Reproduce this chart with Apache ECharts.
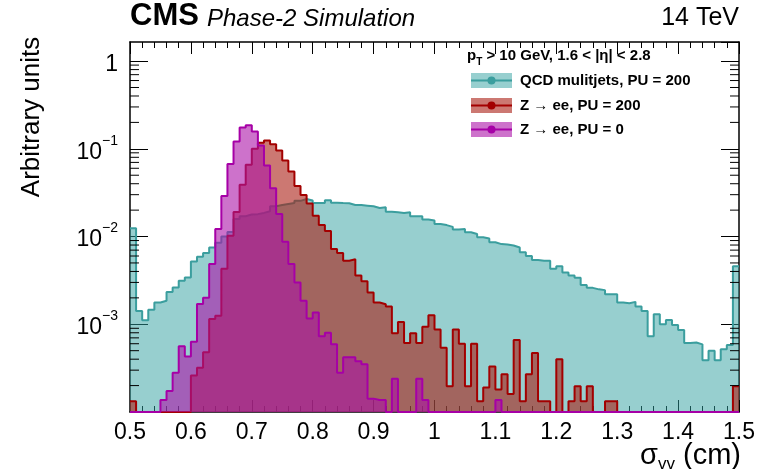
<!DOCTYPE html>
<html><head><meta charset="utf-8">
<script src="https://cdn.jsdelivr.net/npm/echarts@6/dist/echarts.min.js"></script>
<style>html,body{margin:0;padding:0;background:#fff}#c{width:768px;height:469px}</style>
</head><body><div id="c"></div>
<script>
// ---- data ----
const binStart = 0.5, binWidth = 0.01;
const xTickValues = [0.5,0.6,0.7,0.8,0.9,1.0,1.1,1.2,1.3,1.4,1.5];
const yMin = 1e-4, yMax = 1.65;
const seriesNames = ['QCD mulitjets, PU = 200', 'Z \u2192 ee, PU = 200', 'Z \u2192 ee, PU = 0'];

const qcdPU200 = [
 0.0124,0.00142,0.00111,0.00146,0.00177,0.00185,0.00234,0.00263,0.00313,0.00341,
 0.0052,0.0059,0.0065,0.0075,0.0085,0.0100,0.0113,0.0158,0.0170,0.0178,
 0.0180,0.0186,0.0194,0.0221,0.0229,0.0235,0.0241,0.0255,0.0268,0.0257,
 0.0241,0.0241,0.0259,0.0243,0.0241,0.0240,0.0229,0.0229,0.0225,0.0221,
 0.0212,0.0216,0.0192,0.0189,0.0186,0.0189,0.0170,0.0170,0.0156,0.0152,
 0.0139,0.0135,0.0129,0.0120,0.0122,0.0112,0.0107,0.0098,0.0095,0.0086,
 0.0082,0.0081,0.0079,0.0075,0.0066,0.0060,0.0054,0.0053,0.0053,0.0043,
 0.0046,0.0039,0.0036,0.0034,0.0028,0.0026,0.0025,0.00245,0.0022,0.0022,
 0.00177,0.00174,0.0018,0.00159,0.00142,0.00073,0.0013,0.0010,0.00112,0.00098,
 0.00086,0.00061,0.00062,0.00059,0.00039,0.00050,0.00039,0.00052,0.00058,0.0046
];
const zeePU200 = [
 0.000133,0,0,0,0,0,0,0,0,0,
 0.00026,0.00032,0.00048,0.00115,0.00125,0.0043,0.0102,0.019,0.039,0.066,
 0.100,0.117,0.124,0.113,0.0957,0.0735,0.0553,0.0378,0.0298,0.0238,
 0.0173,0.0135,0.0116,0.0072,0.0065,0.0053,0.0055,0.0036,0.0031,0.0023,
 0.00177,0.00169,0.00159,0.00079,0.00106,0.00061,0.00079,0.00061,0.00094,0.00127,
 0.00087,0.00054,0.000197,0.00087,0.0006,0.000197,0.0006,0.000133,0.00019,0.00033,
 0.00018,0.00027,0.00016,0.00066,0.000133,0.00027,0.00047,0.000133,0.000133,0,
 0.0004,0,0.000133,0.000197,0.000133,0.000197,0,0,0.000133,0.000133,
 0,0,0,0,0,0,0,0,0,0,
 0,0,0,0,0,0,0,0,0,0.000197
];
const zeePU0 = [
 0,0,0,0,0,0.000137,0.000173,0.00028,0.00056,0.00043,
 0.00063,0.0017,0.002,0.00485,0.0122,0.029,0.067,0.121,0.175,0.185,
 0.158,0.109,0.0644,0.0356,0.0181,0.0087,0.00485,0.0030,0.00185,0.00116,
 0.00136,0.00073,0.0008,0.00059,0.00028,0.00042,0.00042,0.00038,0.00035,0.000142,
 0.000137,0.000137,0,0.00024,0,0,0,0.00024,0.000137,0,
 0,0,0,0,0,0,0,0,0,0,
 0.000137,0,0,0,0,0,0,0,0,0,
 0,0,0,0,0,0,0,0,0,0,
 0,0,0,0,0,0,0,0,0,0,
 0,0,0,0,0,0,0,0,0,0
];

// ---- styling ----
const lineColors = ['#3b9e9e', '#a30000', '#a600a6'];
const fillColors = ['rgba(48,160,160,0.5)', 'rgba(170,30,20,0.6)', 'rgba(172,20,168,0.6)'];
const FONT = '"Liberation Sans", Arial, Helvetica, sans-serif';

function hist(values) {
  const pts = values.map((v, i) => [+(binStart + i * binWidth).toFixed(3), v > 0 ? v : yMin]);
  const last = values[values.length - 1];
  pts.push([+(binStart + values.length * binWidth).toFixed(3), last > 0 ? last : yMin]);
  return pts;
}

const yMinorTicks = [];
for (let d = -4; d <= 0; d++) for (let k = 2; k <= 9; k++) {
  const v = k * Math.pow(10, d);
  if (v < yMax) yMinorTicks.push([binStart, v]);
}

function yLabel(v) {
  const l = Math.log10(v), n = Math.round(l);
  if (Math.abs(l - n) > 0.01 || n <= -4) return '';
  if (n === 0) return '{b|1}';
  return '{b|10}{s|\u2212' + (-n) + '}';
}

const chart = echarts.init(document.getElementById('c'), null, {renderer: 'canvas'});
const axX = (pos, labels) => ({
  type: 'value', position: pos, min: 0.5, max: 1.5, interval: 0.1,
  axisLine: {show: true, onZero: false, lineStyle: {color: '#000', width: 1.5}},
  axisTick: {show: true, inside: true, length: 12, lineStyle: {color: '#000', width: 1}},
  minorTick: {show: true, splitNumber: 5, length: 6, lineStyle: {color: '#000', width: 1}},
  splitLine: {show: false},
  axisLabel: {show: labels, fontSize: 23, color: '#000', margin: 9, fontFamily: FONT}
});
const axY = (pos, labels) => ({
  type: 'log', logBase: 10, position: pos, min: yMin, max: yMax,
  axisLine: {show: true, onZero: false, lineStyle: {color: '#000', width: 1.5}},
  axisTick: {show: true, inside: true, length: 18, lineStyle: {color: '#000', width: 1}},
  splitLine: {show: false},
  axisLabel: {show: labels, formatter: yLabel, margin: 12, color: '#000', fontFamily: FONT,
    showMaxLabel: false,
    rich: {
      b: {fontSize: 23, lineHeight: 30, verticalAlign: 'bottom', fontFamily: FONT, color: '#000'},
      s: {fontSize: 14, lineHeight: 16, verticalAlign: 'top', fontFamily: FONT, color: '#000'}
    }}
});

const histSeries = [qcdPU200, zeePU200, zeePU0].map((vals, i) => ({
  type: 'line', name: seriesNames[i], data: hist(vals), step: 'end',
  symbol: 'none', clip: true, animation: false,
  lineStyle: {color: lineColors[i], width: 2},
  areaStyle: {color: fillColors[i], opacity: 1},
  z: 2 + i
}));

const legendY = [80.5, 105.5, 129.5];
const legendGraphics = [];
seriesNames.forEach((name, i) => {
  const cy = legendY[i];
  legendGraphics.push(
    {type: 'rect', shape: {x: 471, y: cy - 7.5, width: 41, height: 15}, style: {fill: fillColors[i]}, z: 20},
    {type: 'line', shape: {x1: 471, y1: cy, x2: 512, y2: cy}, style: {stroke: lineColors[i], lineWidth: 2}, z: 21},
    {type: 'circle', shape: {cx: 491.5, cy: cy, r: 4}, style: {fill: lineColors[i]}, z: 22},
    {type: 'text', x: 520, y: cy, style: {text: name, font: 'bold 15px ' + FONT, fill: '#000', verticalAlign: 'middle', align: 'left'}, z: 22}
  );
});

chart.setOption({
  animation: false,
  grid: {left: 130, right: 29, top: 42, bottom: 57, containLabel: false},
  xAxis: [axX('bottom', true), axX('top', false)],
  yAxis: [axY('left', true), axY('right', false)],
  series: histSeries.concat([{
    type: 'custom', name: 'yminor', data: yMinorTicks, clip: false, silent: true, z: 30,
    encode: {x: 0, y: 1},
    renderItem: function (params, api) {
      const v = api.value(1);
      const p = api.coord([0.5, v]), q = api.coord([1.5, v]);
      const st = {stroke: '#000', lineWidth: 1};
      return {type: 'group', children: [
        {type: 'line', shape: {x1: p[0], y1: p[1], x2: p[0] + 9, y2: p[1]}, style: st},
        {type: 'line', shape: {x1: q[0] - 9, y1: q[1], x2: q[0], y2: q[1]}, style: st}
      ]};
    }
  }]),
  graphic: [
    {type: 'text', x: 130, y: 32, style: {text: 'CMS', font: 'bold 31px ' + FONT, fill: '#000', verticalAlign: 'bottom', align: 'left'}},
    {type: 'text', x: 207, y: 31, style: {text: 'Phase-2 Simulation', font: 'italic 24px ' + FONT, fill: '#000', verticalAlign: 'bottom', align: 'left'}},
    {type: 'text', x: 739, y: 31, style: {text: '14 TeV', font: '25px ' + FONT, fill: '#000', verticalAlign: 'bottom', align: 'right'}},
    {type: 'text', x: 32, y: 117, rotation: Math.PI / 2, style: {text: 'Arbitrary units', font: '26px ' + FONT, fill: '#000', align: 'center', verticalAlign: 'middle'}},
    {type: 'text', x: 741, y: 456, style: {text: '{a|\u03c3}{s|vv}{a| (cm)}', fill: '#000', align: 'right', verticalAlign: 'middle',
      rich: {a: {fontSize: 29, fontFamily: FONT, lineHeight: 34, verticalAlign: 'middle'}, s: {fontSize: 17, fontFamily: FONT, lineHeight: 34, verticalAlign: 'bottom'}}}},
    {type: 'text', x: 467, y: 56, style: {text: '{b|p}{s|T}{b| > 10 GeV, 1.6 < |\u03b7| < 2.8}', fill: '#000', align: 'left', verticalAlign: 'middle',
      rich: {b: {fontSize: 15, fontWeight: 'bold', fontFamily: FONT, lineHeight: 20, verticalAlign: 'middle'}, s: {fontSize: 10, fontWeight: 'bold', fontFamily: FONT, lineHeight: 22, verticalAlign: 'bottom'}}}}
  ].concat(legendGraphics)
});
</script>
</body></html>
